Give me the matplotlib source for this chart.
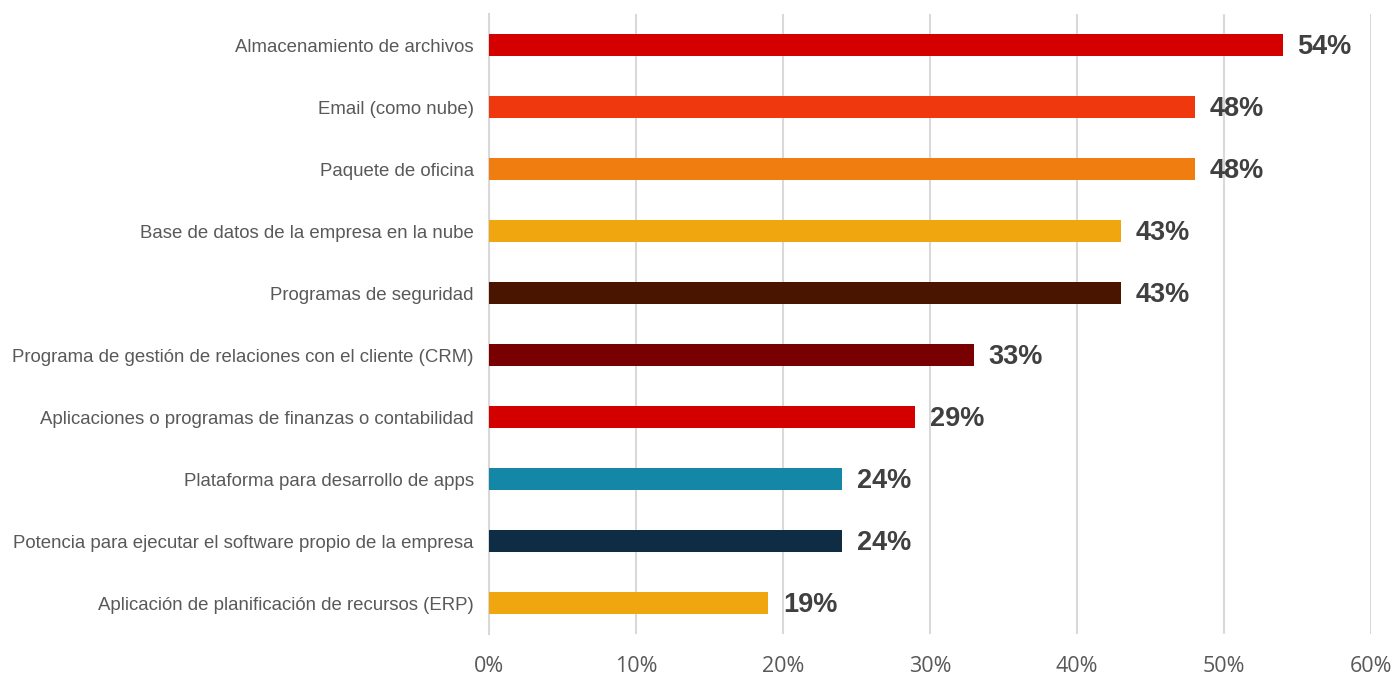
import matplotlib.pyplot as plt
import numpy as np

# Datos: uso de servicios en la nube
categorias = [
    "Almacenamiento de archivos",
    "Email (como nube)",
    "Paquete de oficina",
    "Base de datos de la empresa en la nube",
    "Programas de seguridad",
    "Programa de gestión de relaciones con el cliente (CRM)",
    "Aplicaciones o programas de finanzas o contabilidad",
    "Plataforma para desarrollo de apps",
    "Potencia para ejecutar el software propio de la empresa",
    "Aplicación de planificación de recursos (ERP)",
]
porcentajes = [54, 48, 48, 43, 43, 33, 29, 24, 24, 19]
colores = ["#D40000", "#F0380F", "#F07D10", "#F0A70F", "#4A1500",
           "#780000", "#D40000", "#1486A6", "#0F2C45", "#F0A70F"]
ticks = [0, 10, 20, 30, 40, 50, 60]

fig = plt.figure(figsize=(13.96, 6.75), dpi=100)
ax = fig.add_axes([0.3503, 0.0607, 0.6318, 0.9185])

y = np.arange(len(categorias))
ax.barh(y, porcentajes, height=0.36, color=colores, zorder=3)

for yi, v in zip(y, porcentajes):
    ax.text(v + 1.0, yi + 0.03, f"{v}%", va="center", ha="left",
            fontsize=19.5, fontweight="bold", color="#404040",
            family="Liberation Sans")

ax.set_ylim(len(categorias) - 0.5, -0.5)
ax.set_xlim(0, 60)
ax.set_yticks(y)
ax.set_yticklabels(categorias, family="Liberation Sans", fontsize=13.4, color="#595959")
ax.set_xticks(ticks)
ax.set_xticklabels([f"{t}%" for t in ticks], family="Open Sans", fontsize=15.5, color="#595959")
ax.tick_params(axis="both", length=0)
ax.tick_params(axis="y", pad=11)
ax.tick_params(axis="x", pad=16)

ax.grid(axis="x", color="#D9D9D9", linewidth=1.5, zorder=0)
for lado in ["top", "right", "bottom"]:
    ax.spines[lado].set_visible(False)
ax.spines["left"].set_color("#D9D9D9")
ax.spines["left"].set_linewidth(1.5)

plt.savefig("out.png", dpi=100)
